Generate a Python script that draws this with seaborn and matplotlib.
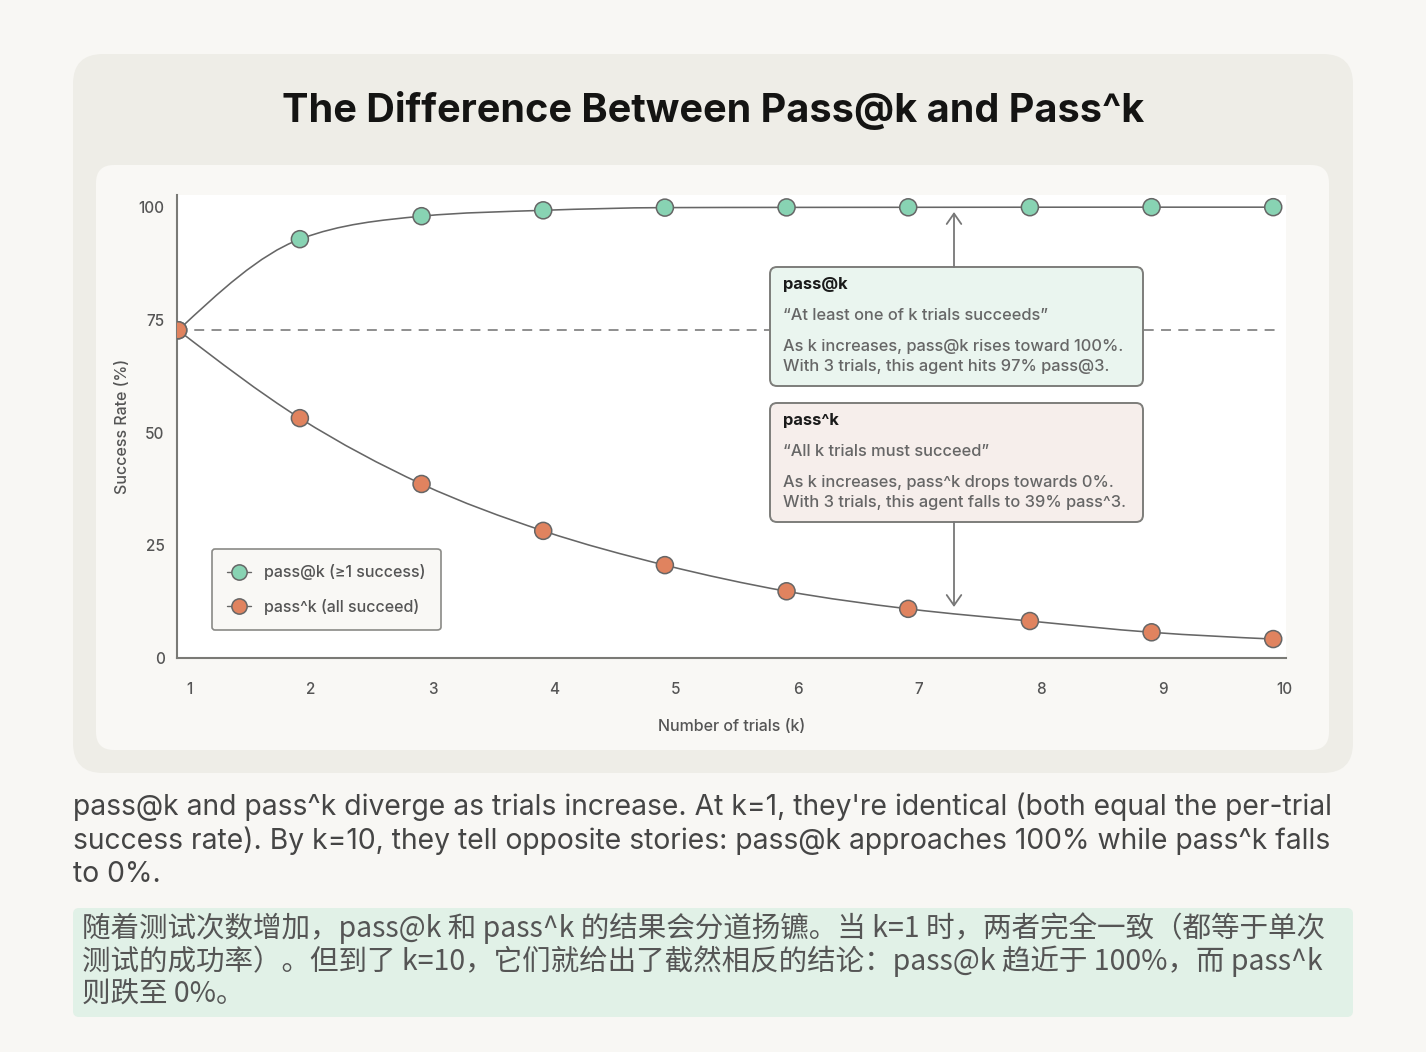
import numpy as np
import matplotlib
matplotlib.use("Agg")
import matplotlib.pyplot as plt
from matplotlib.patches import FancyBboxPatch, PathPatch
from matplotlib.path import Path
from matplotlib.lines import Line2D
import seaborn as sns
import pandas as pd

# ---------------- data ----------------
trials = [1, 2, 3, 4, 5, 6, 7, 8, 9, 10]
pass_at_k = [72.7, 92.9, 98.0, 99.3, 99.9, 99.95, 99.97, 99.99, 100.0, 100.0]
pass_pow_k = [72.7, 53.2, 38.6, 28.2, 20.6, 14.8, 10.9, 8.2, 5.7, 4.2]
per_trial_rate = 72.7
y_ticks = [0, 25, 50, 75, 100]
x_tick_labels = ["1", "2", "3", "4", "5", "6", "7", "8", "9", "10"]
series_names = ["pass@k (\u22651 success)", "pass^k (all succeed)"]

title = "The Difference Between Pass@k and Pass^k"
box1 = ["pass@k", "\u201cAt least one of k trials succeeds\u201d",
        "As k increases, pass@k rises toward 100%.",
        "With 3 trials, this agent hits 97% pass@3."]
box2 = ["pass^k", "\u201cAll k trials must succeed\u201d",
        "As k increases, pass^k drops towards 0%.",
        "With 3 trials, this agent falls to 39% pass^3."]
caption_en = ["pass@k and pass^k diverge as trials increase. At k=1, they're identical (both equal the per-trial",
              "success rate). By k=10, they tell opposite stories: pass@k approaches 100% while pass^k falls",
              "to 0%."]
caption_zh = ["随着测试次数增加，pass@k 和 pass^k 的结果会分道扬镳。当 k=1 时，两者完全一致（都等于单次",
              "测试的成功率）。但到了 k=10，它们就给出了截然相反的结论：pass@k 趋近于 100%，而 pass^k",
              "则跌至 0%。"]

# ---------------- style ----------------
W, H = 1426, 1052
sns.set_theme(style="white")
plt.rcParams["font.family"] = ["Inter", "DejaVu Sans"]
GREEN = "#88d3b3"
ORANGE = "#e0835f"
LINE = "#666666"
AXC = "#7a7a76"
TXT = "#555555"
MED = 500

fig = plt.figure(figsize=(W / 100, H / 100), dpi=100)
fig.patch.set_facecolor("#f8f7f4")
renderer = fig.canvas.get_renderer()


def fit(texts, target):
    w = texts[0].get_window_extent(renderer).width
    fs = texts[0].get_fontsize() * target / w
    for t in texts:
        t.set_fontsize(fs)


# background layer in pixel coordinates
bg = fig.add_axes([0, 0, 1, 1], zorder=-10)
bg.set_xlim(0, W); bg.set_ylim(H, 0); bg.axis("off")
bg.add_patch(FancyBboxPatch((73, 54), 1280, 719, boxstyle="round,pad=0,rounding_size=30",
                            fc="#eeede7", ec="none"))
bg.add_patch(FancyBboxPatch((96, 165), 1233, 585, boxstyle="round,pad=0,rounding_size=18",
                            fc="#f9f8f5", ec="none"))
t_title = bg.text(713, 111, title, ha="center", va="center", fontsize=28, fontweight="bold",
                  color="#141413")
fit([t_title], 860)

# caption
en = [bg.text(73, 807 + i * 33.5, line, ha="left", va="center", fontsize=19, color="#454545")
      for i, line in enumerate(caption_en)]
fit(en, 1257)
bg.add_patch(FancyBboxPatch((73, 908), 1280, 109, boxstyle="round,pad=0,rounding_size=6",
                            fc="#e1f1e7", ec="none"))
zh = [bg.text(82, 928 + i * 33.5, line, ha="left", va="center", fontsize=19.2, color="#555555",
              family=["Noto Sans CJK SC", "DejaVu Sans"])
      for i, line in enumerate(caption_zh)]
fit(zh, 1245)

# ---------------- main chart ----------------
x0, x1, ytop, ybot = 177, 1286, 195, 658
ax = fig.add_axes([x0 / W, 1 - ybot / H, (x1 - x0) / W, (ybot - ytop) / H])
ax.set_facecolor("white")

df = pd.DataFrame({"k": trials * 2,
                   "rate": pass_at_k + pass_pow_k,
                   "series": [series_names[0]] * 10 + [series_names[1]] * 10})


def monotone_path(xs, ys):
    xs = np.asarray(xs, float); ys = np.asarray(ys, float)
    n = len(xs)
    h = np.diff(xs); s = np.diff(ys) / h
    t = np.zeros(n)
    for i in range(1, n - 1):
        p = (s[i - 1] * h[i] + s[i] * h[i - 1]) / (h[i - 1] + h[i])
        t[i] = (np.sign(s[i - 1]) + np.sign(s[i])) * min(abs(s[i - 1]), abs(s[i]), 0.5 * abs(p))
    t[0] = (3 * s[0] - t[1]) / 2
    t[-1] = (3 * s[-1] - t[-2]) / 2
    verts = [(xs[0], ys[0])]; codes = [Path.MOVETO]
    for i in range(n - 1):
        dx = (xs[i + 1] - xs[i]) / 3
        verts += [(xs[i] + dx, ys[i] + dx * t[i]), (xs[i + 1] - dx, ys[i + 1] - dx * t[i + 1]),
                  (xs[i + 1], ys[i + 1])]
        codes += [Path.CURVE4] * 3
    return Path(verts, codes)


ax.axhline(per_trial_rate, xmin=0, xmax=0.995, color="#707070", lw=1.1,
           linestyle=(0, (6.5, 4.8)), zorder=1)
for ys in (pass_at_k, pass_pow_k):
    ax.add_patch(PathPatch(monotone_path(trials, ys), fill=False, ec=LINE, lw=1.15, zorder=2))

sns.scatterplot(data=df, x="k", y="rate", hue="series", palette=[GREEN, ORANGE],
                s=150, edgecolor=LINE, linewidth=1.1, ax=ax, legend=False, zorder=3)

ax.set_xlim(0.99, 10.105)
ax.set_ylim(0, 102.7)
ax.set_xticks(np.array(trials) + 0.09)
ax.set_xticklabels(x_tick_labels)
ax.set_yticks(y_ticks)
for s in ["top", "right"]:
    ax.spines[s].set_visible(False)
for s in ["left", "bottom"]:
    ax.spines[s].set_color(AXC); ax.spines[s].set_linewidth(1.5)
ax.tick_params(axis="x", direction="out", length=10, width=1.2, color=AXC, pad=7,
               labelsize=11, labelcolor=TXT)
ax.tick_params(axis="y", direction="in", length=10, width=1.2, color=AXC, pad=9,
               labelsize=11, labelcolor=TXT)
for lbl in ax.get_xticklabels() + ax.get_yticklabels():
    lbl.set_fontweight(MED)
ax.set_xlabel("Number of trials (k)", fontsize=11.5, color=TXT, labelpad=16, fontweight=MED)
ax.set_ylabel("Success Rate (%)", fontsize=11.5, color=TXT, labelpad=6, fontweight=MED)

handles = [Line2D([0], [0], color=LINE, lw=1, marker="o", markersize=11, mfc=c, mec=LINE, mew=1.1)
           for c in (GREEN, ORANGE)]
leg = ax.legend(handles, series_names, loc="lower left", bbox_to_anchor=(0.0316, 0.0605),
                borderaxespad=0, frameon=True, labelcolor=TXT, handlelength=1.5,
                prop={"size": 11.5, "weight": MED},
                handletextpad=0.8, labelspacing=1.15, borderpad=0.95, fancybox=True)
leg.get_frame().set_facecolor("#f9f8f5")
leg.get_frame().set_edgecolor("#8a8a86")
leg.get_frame().set_linewidth(1.2)
leg.get_frame().set_alpha(1)

# ---------------- overlay annotations (pixel coords) ----------------
ov = fig.add_axes([0, 0, 1, 1], zorder=10)
ov.set_xlim(0, W); ov.set_ylim(H, 0); ov.axis("off"); ov.patch.set_alpha(0)

arrow = dict(arrowstyle="->,head_length=0.5,head_width=0.35", color="#777777", lw=1.3,
             shrinkA=0, shrinkB=0, mutation_scale=15)
ov.annotate("", xy=(954, 212), xytext=(954, 267), arrowprops=arrow)
ov.annotate("", xy=(954, 607), xytext=(954, 522), arrowprops=arrow)

box_texts = []
for (top, lines, fc) in ((267, box1, "#eaf5ef"), (403, box2, "#f6eeeb")):
    ov.add_patch(FancyBboxPatch((770, top), 373, 119, boxstyle="round,pad=0,rounding_size=7",
                                fc=fc, ec="#7d7d7a", lw=1.4))
    a = ov.text(783, top + 18, lines[0], ha="left", va="center", fontsize=11, fontweight="bold",
                color="#1a1a1a")
    b = ov.text(783, top + 49, lines[1], ha="left", va="center", fontsize=11, color="#666666",
                fontweight=MED)
    c = ov.text(783, top + 80, lines[2], ha="left", va="center", fontsize=11, color="#666666",
                fontweight=MED)
    d = ov.text(783, top + 100, lines[3], ha="left", va="center", fontsize=11, color="#666666",
                fontweight=MED)
    box_texts += [c, a, b, d]
fit(box_texts, 344)

fig.savefig("out.png", dpi=100, facecolor=fig.get_facecolor())
